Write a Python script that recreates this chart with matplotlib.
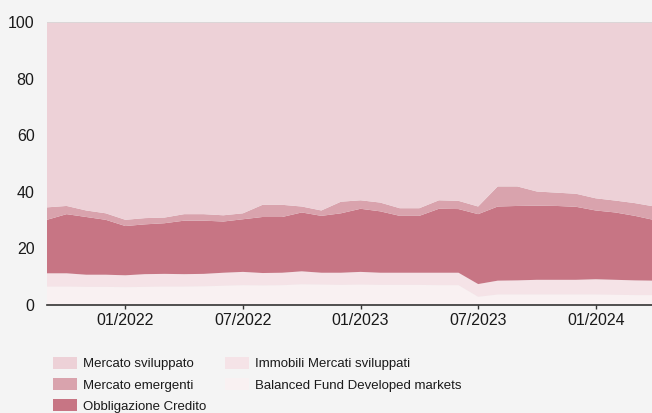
import matplotlib
matplotlib.use("Agg")
import matplotlib.pyplot as plt
from matplotlib.patches import Patch
from matplotlib import font_manager

plt.rcParams['font.family'] = ['Liberation Sans', 'DejaVu Sans']

# Monthly observations, Sep 2021 .. Apr 2024 (index 0 = 09/2021)
months = list(range(32))
tick_positions = [4, 10, 16, 22, 28]
tick_labels = ["01/2022", "07/2022", "01/2023", "07/2023", "01/2024"]

balanced = [6.5, 6.5, 6.4, 6.4, 6.3, 6.4, 6.5, 6.5, 6.6, 6.8, 7.0, 6.9, 7.0, 7.3, 7.2, 7.1,
            7.2, 7.1, 7.1, 7.1, 7.0, 7.0, 2.9, 3.7, 3.7, 3.7, 3.7, 3.7, 3.7, 3.6, 3.5, 3.5]
immobili = [4.7, 4.7, 4.3, 4.3, 4.2, 4.5, 4.5, 4.4, 4.4, 4.6, 4.7, 4.4, 4.4, 4.6, 4.2, 4.3,
            4.5, 4.3, 4.3, 4.3, 4.4, 4.4, 4.5, 4.9, 5.0, 5.2, 5.2, 5.2, 5.4, 5.3, 5.2, 5.1]
credito = [18.9, 20.9, 20.4, 19.4, 17.4, 17.6, 17.9, 18.9, 18.8, 18.1, 18.6, 19.8, 19.7, 20.8, 20.1, 21.0,
           22.3, 21.7, 20.1, 20.1, 22.6, 22.5, 24.7, 26.2, 26.3, 26.2, 26.1, 25.8, 24.3, 23.8, 22.8, 21.4]
emergenti = [4.4, 2.9, 2.3, 2.3, 2.2, 2.2, 2.0, 2.3, 2.3, 2.2, 2.1, 4.3, 4.3, 2.1, 1.9, 4.1,
             3.0, 3.1, 2.7, 2.7, 3.0, 2.9, 2.7, 7.1, 6.9, 5.0, 4.7, 4.6, 4.3, 4.2, 4.5, 4.8]
sviluppato = [65.5, 65.0, 66.6, 67.6, 69.9, 69.3, 69.1, 67.9, 67.9, 68.3, 67.6, 64.6, 64.6, 65.2, 66.6, 63.5,
              63.0, 63.8, 65.8, 65.8, 63.0, 63.2, 65.2, 58.1, 58.1, 59.9, 60.3, 60.7, 62.3, 63.1, 64.0, 65.2]

labels = ["Balanced Fund Developed markets", "Immobili Mercati sviluppati",
          "Obbligazione Credito", "Mercato emergenti", "Mercato sviluppato"]
colors = ["#F9F1F2", "#F5E3E7", "#C77584", "#D9A3AD", "#EDD1D7"]

W, H = 652, 413
fig = plt.figure(figsize=(W / 100, H / 100), dpi=100)
bg = "#F4F4F4"
fig.patch.set_facecolor(bg)

left, right, top, bottom = 47, 654.5, 22, 305
ax = fig.add_axes([left / W, (H - bottom) / H, (right - left) / W, (bottom - top) / H])
ax.set_facecolor(bg)

ax.stackplot(months, balanced, immobili, credito, emergenti, sviluppato,
             colors=colors, linewidth=0)
ax.axhline(100, color="#D8D8D8", lw=1.2, zorder=3)

ax.set_xlim(0, 31)
ax.set_ylim(0, 100)
ax.set_yticks([0, 20, 40, 60, 80, 100])
ax.set_xticks(tick_positions)
ax.set_xticklabels(tick_labels)

for s in ["top", "right", "left"]:
    ax.spines[s].set_visible(False)
ax.spines["bottom"].set_color("#333333")
ax.spines["bottom"].set_linewidth(1.2)
ax.spines["bottom"].set_zorder(4)
ax.tick_params(axis="y", length=0, pad=9, labelsize=11.5, labelcolor="#1a1a1a")
ax.tick_params(axis="x", length=3, width=1, color="#333333", pad=2.5, labelsize=11.5, labelcolor="#1a1a1a")

# Legend font: narrow sans if available
available = {f.name for f in font_manager.fontManager.ttflist}
if "Liberation Sans Narrow" in available:
    leg_font = {"family": ["Liberation Sans Narrow", "DejaVu Sans"], "size": 11.5}
    fs_px = 11.5 * 100 / 72
else:
    leg_font = {"family": ["Liberation Sans", "DejaVu Sans"], "size": 9.5}
    fs_px = 9.5 * 100 / 72

handles = [Patch(facecolor=colors[i], edgecolor="none") for i in [4, 3, 2, 1, 0]]
leg_labels = [labels[i] for i in [4, 3, 2, 1, 0]]
fig.legend(handles, leg_labels, ncol=2, loc="upper left",
           bbox_to_anchor=(53 / W, 1 - 357 / H), frameon=False,
           prop=leg_font, handlelength=24 / fs_px, handleheight=13 / fs_px,
           handletextpad=6 / fs_px, labelspacing=(21 - fs_px) / fs_px,
           columnspacing=19 / fs_px, borderpad=0, borderaxespad=0,
           labelcolor="#1a1a1a")

fig.savefig("out.png", dpi=100, facecolor=bg)
